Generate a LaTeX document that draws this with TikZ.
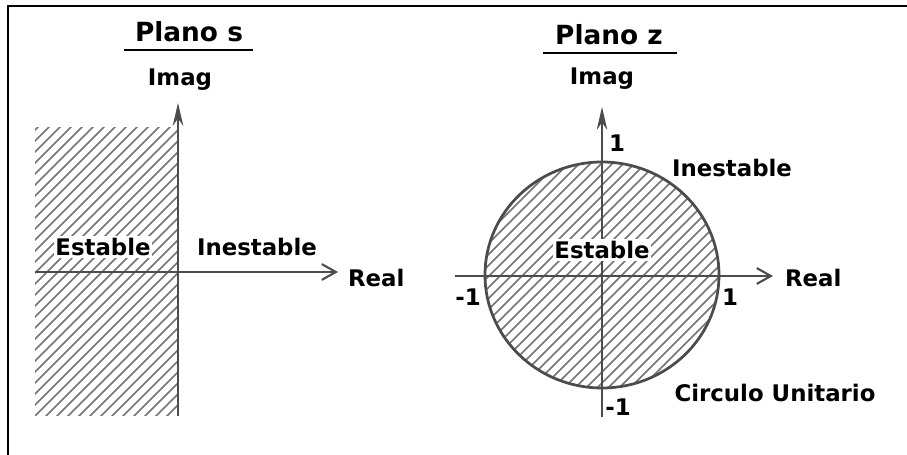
\documentclass[tikz,border=0pt]{standalone}
\usepackage{fontspec}
\setmainfont{DejaVu Sans}
\usepackage{tikz}
\usetikzlibrary{arrows.meta,positioning,calc}

\tikzset{
  lbl/.style={font=\bfseries\fontsize{13}{15}\selectfont,inner sep=1pt},
  ttl/.style={font=\bfseries\fontsize{15}{17}\selectfont,inner sep=1pt},
  axisline/.style={draw=black!70,line width=0.045cm},
  harrow/.style={axisline,-{Straight Barb[length=8pt,width=9pt,line width=1.2pt]}},
  varrow/.style={axisline,-{Stealth[length=13pt,width=6pt]}},
  hatchline/.style={draw=black!55,line width=0.03cm},
  rim/.style={draw=black!70,line width=0.055cm},
  uline/.style={draw=black,line width=0.045cm},
  blank/.style={fill=white}
}

\begin{document}
\begin{tikzpicture}[x=0.02cm,y=0.02cm]
  \useasboundingbox (0,0) rectangle (907,-455);
  % frame (top and left only)
  \draw[line width=0.04cm] (907,-6) -- (8,-6) -- (8,-455);

  % ---------- Plano s ----------
  \coordinate (so) at (178,-272);
  \coordinate (sxa) at (35,-272);
  \coordinate (sxb) at (338,-272);
  \coordinate (sya) at (178,-416);
  \coordinate (syb) at (178,-103);
  % hatched half plane
  \begin{scope}
    \clip (35,-128) rectangle (178,-416);
    \foreach \k in {-420,-409,...,200}
      \draw[hatchline] (\k,-420) -- ++(300,300);
  \end{scope}
  \draw[harrow] (sxa) -- (sxb);
  \draw[varrow] (sya) -- (syb);
  \node[ttl] (ts) at (189,-32) {Plano s};
  \draw[uline] ($(ts.south west)+(-9,-6)$) -- ($(ts.south east)+(8,-6)$);
  \node[lbl] (ims) at (180,-80) {Imag};
  \node[lbl,blank] (ests) at (103,-247) {Estable};
  \node[lbl] (ines) at (257,-247) {Inestable};
  \node[lbl,anchor=west] (res) at ($(sxb)+(8,-6)$) {Real};

  % ---------- Plano z ----------
  \coordinate (zo) at (602,-275);
  \coordinate (zxa) at (455,-276);
  \coordinate (zxb) at (773,-276);
  \coordinate (zya) at (602,-417);
  \coordinate (zyb) at (602,-107);
  % hatched unit disc
  \begin{scope}
    \clip (zo) ellipse [x radius=117,y radius=113];
    \foreach \k in {-20,-9,...,900}
      \draw[hatchline] (\k,-400) -- ++(260,260);
  \end{scope}
  \draw[rim] (zo) ellipse [x radius=117,y radius=113];
  \draw[harrow] (zxa) -- (zxb);
  \draw[varrow] (zya) -- (zyb);
  \node[ttl] (tz) at (609,-35) {Plano z};
  \draw[uline] ($(tz.south west)+(-10,-6)$) -- ($(tz.south east)+(12,-6)$);
  \node[lbl] (imz) at (602,-79) {Imag};
  \node[lbl,blank] (estz) at (602,-250) {Estable};
  \node[lbl] (inz) at (732,-168) {Inestable};
  \node[lbl,anchor=west] (rez) at ($(zxb)+(10,-2)$) {Real};
  \node[lbl] (uno) at (617,-143) {1};
  \node[lbl] (unox) at (730,-297) {1};
  \node[lbl] (menx) at (468,-297) {-1};
  \node[lbl] (meny) at (618,-407) {-1};
  \node[lbl] (circ) at (775,-393) {Circulo Unitario};
\end{tikzpicture}
\end{document}
